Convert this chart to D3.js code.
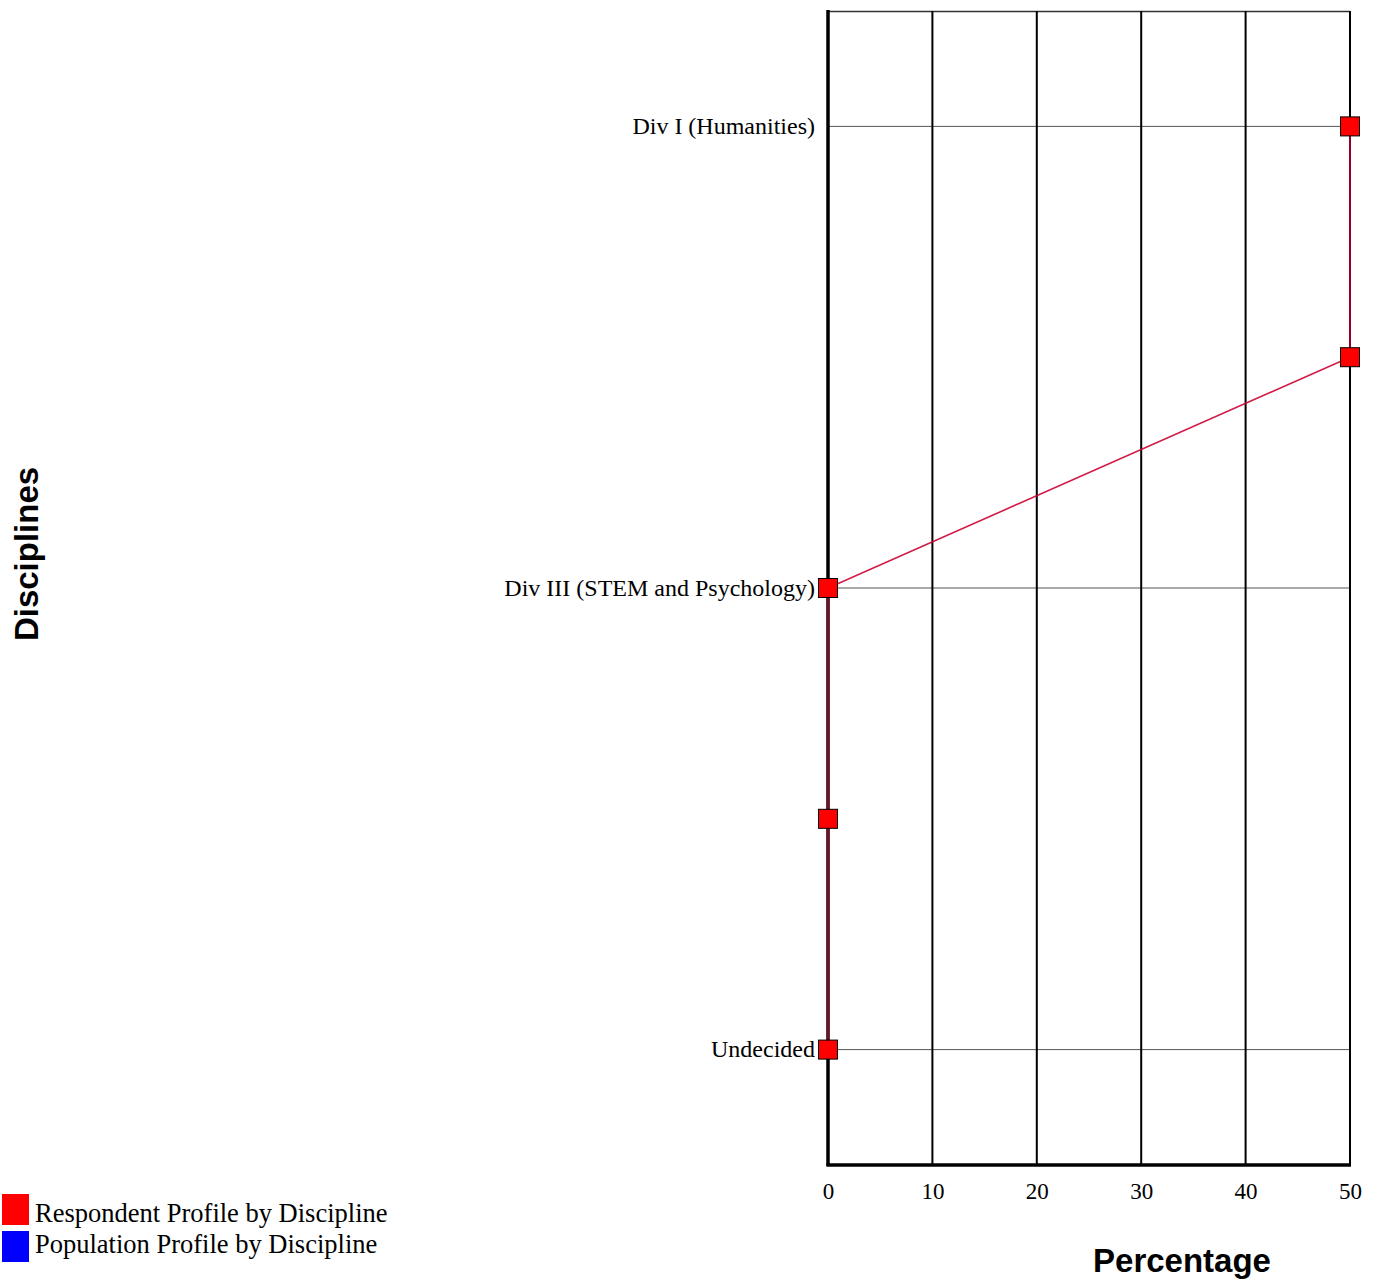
<!DOCTYPE html>
<html><head><meta charset="utf-8">
<script src="https://cdn.jsdelivr.net/npm/d3@7"></script>
<style>body{margin:0;background:#fff}</style>
</head><body>
<script>
const categories = ["Div I (Humanities)", "Div II (Social Sciences)", "Div III (STEM and Psychology)", "Interdisciplinary", "Undecided"];
const shownLabels = ["Div I (Humanities)", "Div III (STEM and Psychology)", "Undecided"];
const respondentValues = [50, 50, 0, 0, 0];
const xTicks = [0, 10, 20, 30, 40, 50];
const legendLabels = ["Respondent Profile by Discipline", "Population Profile by Discipline"];
const legendColors = ["#ff0000", "#0000ff"];

const W = 1376, H = 1279;
const svg = d3.select("body").append("svg").attr("width", W).attr("height", H);
const x = d3.scaleLinear().domain([0, 50]).range([828, 1350]);
const y = d3.scaleBand().domain(categories).range([11, 1165]).padding(0);
const yc = d => y(d) + y.bandwidth() / 2;
const serif = "Liberation Serif, Times New Roman, serif";
const sans = "Liberation Sans, Arial, sans-serif";

// horizontal grid (only at labelled categories)
svg.append("g").selectAll("line").data(shownLabels).join("line")
  .attr("x1", x(0)).attr("x2", x(50)).attr("y1", yc).attr("y2", yc)
  .attr("stroke", "#555").attr("stroke-width", 1);
// top border
svg.append("line").attr("x1", x(0)).attr("x2", x(50)).attr("y1", 11.5).attr("y2", 11.5)
  .attr("stroke", "#333").attr("stroke-width", 1.5);
// vertical grid
svg.append("g").selectAll("line").data(xTicks.slice(1)).join("line")
  .attr("x1", d => x(d)).attr("x2", d => x(d)).attr("y1", 11).attr("y2", 1165)
  .attr("stroke", "#000").attr("stroke-width", 2);
// axes lines
svg.append("line").attr("x1", x(0)).attr("x2", x(0)).attr("y1", 10).attr("y2", 1166)
  .attr("stroke", "#000").attr("stroke-width", 3.5);
svg.append("line").attr("x1", x(0) - 1.5).attr("x2", x(50) + 1).attr("y1", 1165).attr("y2", 1165)
  .attr("stroke", "#000").attr("stroke-width", 3.5);

// x tick labels
const xAxis = d3.axisBottom(x).tickValues(xTicks).tickSize(0).tickPadding(0);
const gx = svg.append("g").attr("transform", "translate(0,1183)").call(xAxis);
gx.select(".domain").remove();
gx.selectAll("text").attr("font-family", serif)
  .attr("font-size", 23).attr("fill", "#000").attr("dy", "0.71em").attr("y", 0);

// y tick labels
const yAxis = d3.axisLeft(y).tickSize(0).tickPadding(0)
  .tickFormat(d => shownLabels.includes(d) ? d : "");
const gy = svg.append("g").attr("transform", "translate(815,0)").call(yAxis);
gy.select(".domain").remove();
gy.selectAll("text").attr("font-family", serif)
  .attr("font-size", 24).attr("fill", "#000").attr("dy", "0.32em");

// line
const line = d3.line().x(d => x(d.v)).y(d => yc(d.c));
const pts = categories.map((c, i) => ({c, v: respondentValues[i]}));
svg.append("path").datum(pts).attr("d", line).attr("fill", "none")
  .attr("stroke", "#cc0033").attr("stroke-width", 1.6).attr("stroke-opacity", 0.9);
// markers
const s = 19;
svg.append("g").selectAll("rect").data(pts).join("rect")
  .attr("x", d => x(d.v) - s / 2).attr("y", d => yc(d.c) - s / 2)
  .attr("width", s).attr("height", s).attr("fill", "#ff0000")
  .attr("stroke", "#000").attr("stroke-width", 1);

// axis titles
svg.append("text").attr("x", 1182).attr("y", 1272).attr("text-anchor", "middle")
  .attr("font-family", sans).attr("font-weight", "bold")
  .attr("font-size", 33).text("Percentage");
svg.append("text").attr("transform", "translate(38,554) rotate(-90)").attr("text-anchor", "middle")
  .attr("font-family", sans).attr("font-weight", "bold")
  .attr("font-size", 33).text("Disciplines");

// legend
const lg = svg.append("g");
lg.selectAll("rect").data(legendLabels).join("rect")
  .attr("x", 2).attr("y", (d, i) => 1194 + i * 37)
  .attr("width", 27).attr("height", 31).attr("fill", (d, i) => legendColors[i]);
lg.selectAll("text").data(legendLabels).join("text")
  .attr("x", 35).attr("y", (d, i) => 1222 + i * 31).attr("font-family", serif)
  .attr("font-size", 26.5).attr("fill", "#000").text(d => d);
</script>
</body></html>
